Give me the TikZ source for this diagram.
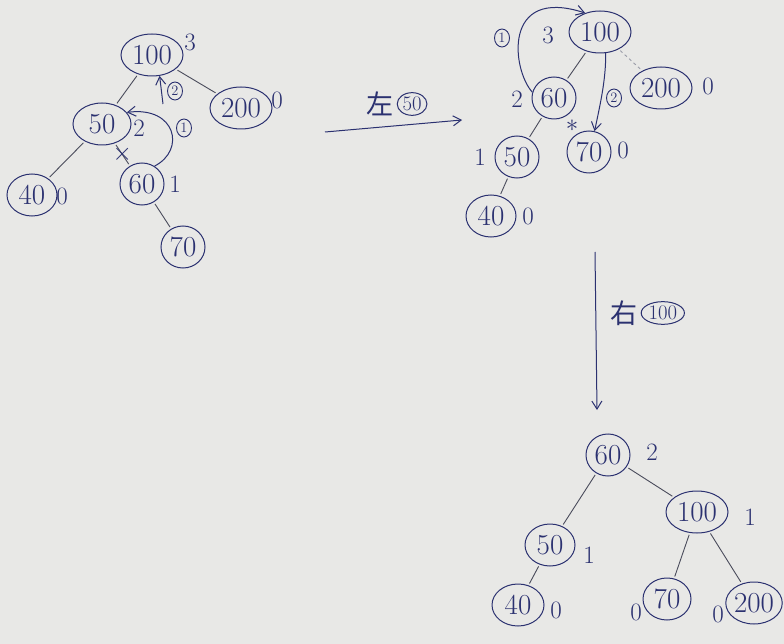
\documentclass[tikz,border=0pt]{standalone}
\usepackage{fontspec}
\newfontfamily\cjk{Noto Sans CJK SC}
\usetikzlibrary{arrows.meta,positioning,shapes.geometric}
\definecolor{paper}{HTML}{E8E8E6}
\definecolor{ink}{HTML}{2B3170}
\definecolor{pencil}{HTML}{4A4C5C}
\definecolor{faint}{HTML}{9A9CA8}
\newcommand\keyfont{\fontsize{29}{31}\selectfont}
\newcommand\hgtfont{\fontsize{25}{27}\selectfont}
\tikzset{
  keynode/.style={draw=ink,ellipse,line width=1pt,inner sep=0pt,
                  minimum width=44pt,minimum height=42pt,font=\keyfont,text=ink},
  widekey/.style={keynode,minimum width=62pt},
  hgt/.style={text=ink,font=\hgtfont,inner sep=1pt},
  treeedge/.style={draw=pencil,line width=0.9pt,shorten <=2pt,shorten >=2pt},
  rotarr/.style={-{Straight Barb[length=8pt,width=10pt]},draw=ink,line width=1pt},
  stepmark/.style={ellipse,draw=ink,line width=0.9pt,inner sep=0.6pt,
                   minimum width=15pt,minimum height=18pt,font=\Large,text=ink},
  tagkey/.style={ellipse,draw=ink,line width=1pt,inner sep=1pt,font=\huge,text=ink},
  hanzi/.style={text=ink,font=\cjk\fontsize{27}{29}\selectfont,inner sep=1pt}
}
\begin{document}
\begin{tikzpicture}[x=1pt,y=-1pt]
  \fill[paper] (0,0) rectangle (784,644);
  \useasboundingbox (0,0) rectangle (784,644);

  % before: 50 unbalanced
  \node[widekey] (a100) at (152,55) {100};
  \node[widekey] (a200) at (241,108) {200};
  \node[widekey,minimum width=58pt] (a50) at (102,124) {50};
  \node[keynode,minimum width=50pt] (a40) at (32,195) {40};
  \node[keynode] (a60) at (142,184) {60};
  \node[keynode] (a70) at (183,247) {70};
  \node[hgt] (ha100) at (190,42) {3};
  \node[hgt] (ha200) at (277,100) {0};
  \node[hgt] (ha50) at (139,128) {2};
  \node[hgt] (ha40) at (62,196) {0};
  \node[hgt] (ha60) at (175,184) {1};
  \draw[treeedge] (a100) -- (a50);
  \draw[treeedge] (a100) -- (a200);
  \draw[treeedge] (a50) -- (a40);
  \draw[treeedge] (a50) -- (a60) node[pos=0.5,text=ink,font=\Huge] (acut) {$\times$};
  \draw[treeedge] (a60) -- (a70);
  \draw[rotarr] (a60.55) .. controls (186,150) and (176,106) .. (a50.25);
  \node[stepmark] (am1) at (184,128) {1};
  \coordinate (am2s) at (163,104);
  \draw[rotarr] (am2s) -- (a100.290);
  \node[stepmark] (am2) at (175,91) {2};

  % left rotation at 50
  \coordinate (r1s) at (325,132);
  \coordinate (r1e) at (462,120);
  \draw[rotarr] (r1s) -- (r1e);
  \node[hanzi] (r1t) at (380,104) {左};
  \node[tagkey,right=2pt of r1t] (r1k) {50};

  % middle: 100 unbalanced
  \node[widekey] (b100) at (600,32) {100};
  \node[widekey] (b200) at (661,88) {200};
  \node[keynode] (b60) at (554,98) {60};
  \node[keynode] (b70) at (589,152) {70};
  \node[keynode] (b50) at (517,157) {50};
  \node[keynode,minimum width=50pt] (b40) at (491,216) {40};
  \node[hgt] (hb100) at (548,35) {3};
  \node[hgt] (hb200) at (708,86) {0};
  \node[hgt] (hb60) at (517,99) {2};
  \node[hgt] (hb70) at (623,150) {0};
  \node[hgt] (hb50) at (480,157) {1};
  \node[hgt] (hb40) at (528,216) {0};
  \draw[treeedge] (b100) -- (b60);
  \draw[treeedge] (b60) -- (b50);
  \draw[treeedge] (b50) -- (b40);
  \draw[treeedge,draw=faint,dashed] (b100) -- (b200);
  \draw[rotarr] (b60.165) .. controls (512,70) and (502,-14) .. (b100.128);
  \node[stepmark] (bm1) at (502,38) {1};
  \draw[rotarr] (b100.285) .. controls (606,80) and (600,105) .. (b70.75);
  \node[stepmark] (bm2) at (614,98) {2};
  \node[text=ink,font=\Huge] (bcut) at (572,126) {$\ast$};

  % right rotation at 100
  \coordinate (r2s) at (595,252);
  \coordinate (r2e) at (597,410);
  \draw[rotarr] (r2s) -- (r2e);
  \node[hanzi] (r2t) at (624,313) {右};
  \node[tagkey,right=2pt of r2t] (r2k) {100};

  % after: balanced
  \node[keynode] (c60) at (608,455) {60};
  \node[widekey] (c100) at (697,512) {100};
  \node[keynode,minimum width=50pt] (c50) at (550,545) {50};
  \node[keynode,minimum width=52pt] (c40) at (518,605) {40};
  \node[keynode,minimum width=48pt] (c70) at (667,599) {70};
  \node[widekey,minimum width=56pt] (c200) at (754,603) {200};
  \node[hgt] (hc60) at (652,452) {2};
  \node[hgt] (hc100) at (750,517) {1};
  \node[hgt] (hc50) at (589,555) {1};
  \node[hgt] (hc40) at (556,610) {0};
  \node[hgt] (hc70) at (636,612) {0};
  \node[hgt] (hc200) at (718,614) {0};
  \draw[treeedge] (c60) -- (c50);
  \draw[treeedge] (c60) -- (c100);
  \draw[treeedge] (c50) -- (c40);
  \draw[treeedge] (c100) -- (c70);
  \draw[treeedge] (c100) -- (c200);
\end{tikzpicture}
\end{document}
